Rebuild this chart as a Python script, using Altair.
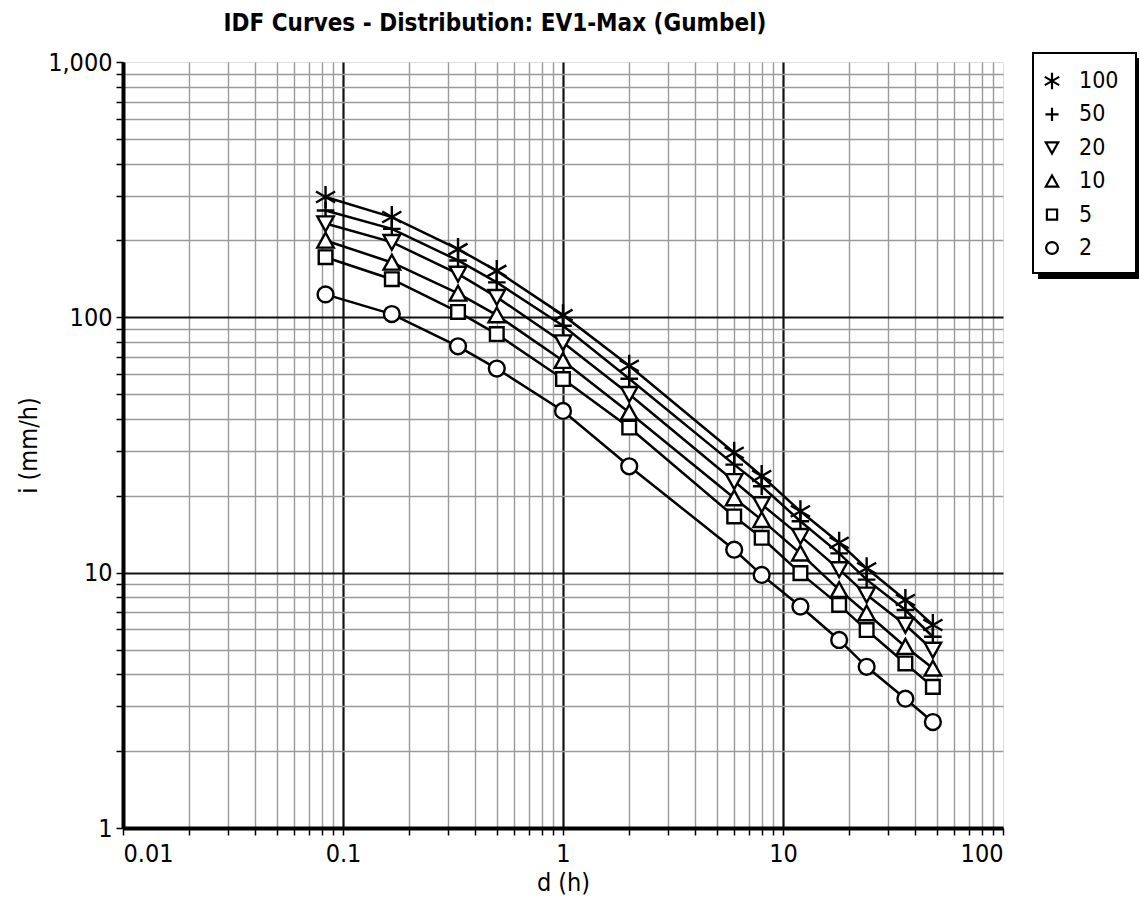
import altair as alt
import pandas as pd

# durations in hours
durations = [0.0833, 0.1667, 0.3333, 0.5, 1, 2, 6, 8, 12, 18, 24, 36, 48]
periods = ["100", "50", "20", "10", "5", "2"]
i100 = [296, 247, 185, 152, 102, 64.6, 29.5, 23.9, 17.4, 13.1, 10.4, 7.82, 6.24]
i50 = [262, 222, 167, 137, 92.7, 57.5, 26.5, 21.8, 15.9, 11.9, 9.39, 7.14, 5.61]
i20 = [233, 197, 148, 120, 79.7, 50.0, 22.8, 18.5, 13.9, 10.3, 8.19, 6.24, 4.98]
i10 = [200, 164, 124, 102, 67.6, 42.4, 19.6, 16.1, 11.9, 8.56, 6.94, 5.13, 4.22]
i5 = [172, 141, 105, 86, 57.3, 37.0, 16.6, 13.7, 9.96, 7.48, 5.96, 4.41, 3.57]
i2 = [123, 103, 77, 63, 43, 26.1, 12.3, 9.8, 7.37, 5.45, 4.28, 3.21, 2.60]
series = [i100, i50, i20, i10, i5, i2]

x_ticks = [0.01, 0.02, 0.03, 0.04, 0.05, 0.06, 0.07, 0.08, 0.09,
           0.1, 0.2, 0.3, 0.4, 0.5, 0.6, 0.7, 0.8, 0.9,
           1, 2, 3, 4, 5, 6, 7, 8, 9,
           10, 20, 30, 40, 50, 60, 70, 80, 90, 100]
y_ticks = [1, 2, 3, 4, 5, 6, 7, 8, 9,
           10, 20, 30, 40, 50, 60, 70, 80, 90,
           100, 200, 300, 400, 500, 600, 700, 800, 900, 1000]

rows = []
for p, vals in zip(periods, series):
    for d, v in zip(durations, vals):
        rows.append({"d": d, "i": v, "T": p})
df = pd.DataFrame(rows)
legend_df = pd.DataFrame({"T": periods})

FONT = "Liberation Sans Narrow, DejaVu Sans Condensed, Liberation Sans, Arial"
major = "abs(log(datum.value)/LN10 - round(log(datum.value)/LN10)) < 1e-6"

# marker outlines (normalised symbol space)
asterisk = "M0,-1L0,1M-0.87,-0.5L0.87,0.5M-0.87,0.5L0.87,-0.5"
plus = "M-0.8,0L0.8,0M0,-0.8L0,0.8"
tri_down = "M-0.75,-0.65L0.75,-0.65L0,0.7Z"
tri_up = "M-0.75,0.65L0.75,0.65L0,-0.7Z"
square = "M-0.62,-0.62L0.62,-0.62L0.62,0.62L-0.62,0.62Z"
circle = "M0.72,0A0.72,0.72 0 1,1 -0.72,0A0.72,0.72 0 1,1 0.72,0Z"
shapes = [asterisk, plus, tri_down, tri_up, square, circle]
shape_scale = alt.Scale(domain=periods, range=shapes)

x_enc = alt.X(
    "d:Q",
    scale=alt.Scale(type="log", domain=[0.01, 100], nice=False),
    axis=alt.Axis(
        values=x_ticks,
        title="d (h)",
        labelExpr=f"({major}) ? format(datum.value, '~g') : ''",
        grid=True,
        gridColor={"condition": {"test": major, "value": "#111111"}, "value": "#9a9a9a"},
        gridWidth={"condition": {"test": major, "value": 2.2}, "value": 1.4},
        gridOpacity={"condition": {"test": "datum.value >= 100", "value": 0}, "value": 1},
        domainWidth=4, domainColor="black",
        tickColor="black", tickWidth=1.5, tickSize=7,
        labelFontSize=25, labelFont=FONT, labelColor="black", labelPadding=6,
        titleFontSize=25, titleFont=FONT, titleFontWeight="normal", titleColor="black",
        titlePadding=4,
    ),
)
y_enc = alt.Y(
    "i:Q",
    scale=alt.Scale(type="log", domain=[1, 1000], nice=False),
    axis=alt.Axis(
        values=y_ticks,
        title="i (mm/h)",
        labelExpr=f"({major}) ? format(datum.value, ',') : ''",
        grid=True,
        gridColor={"condition": {"test": major, "value": "#111111"}, "value": "#9a9a9a"},
        gridWidth={"condition": {"test": major, "value": 2.2}, "value": 1.4},
        gridOpacity={"condition": {"test": "datum.value >= 1000", "value": 0}, "value": 1},
        domainWidth=4, domainColor="black",
        tickColor="black", tickWidth=1.5, tickSize=7,
        labelFontSize=25, labelFont=FONT, labelColor="black", labelPadding=4,
        titleFontSize=25, titleFont=FONT, titleFontWeight="normal", titleColor="black",
        titlePadding=6,
    ),
)

base = alt.Chart(df)

lines = base.mark_line(color="black", strokeWidth=2.5).encode(
    x=x_enc, y=y_enc, detail="T:N", order="d:Q"
)

points = base.mark_point(
    color="black", fill="white", filled=False, strokeWidth=2.4, opacity=1, size=484
).encode(
    x=alt.X("d:Q"),
    y=alt.Y("i:Q"),
    shape=alt.Shape("T:N", scale=shape_scale, legend=None),
)

main = alt.layer(lines, points)

# legend panel (top right, outside the plot area)
leg_base = alt.Chart(legend_df)
row_y = alt.Y("T:N", sort=periods,
              scale=alt.Scale(type="point", domain=periods, range=[19, 186], padding=0),
              axis=None)

shadow = leg_base.mark_rect(color="black").encode(
    x=alt.value(915), x2=alt.value(1018), y=alt.value(-4), y2=alt.value(217)
)
box = leg_base.mark_rect(fill="white", stroke="black", strokeWidth=2).encode(
    x=alt.value(910), x2=alt.value(1013), y=alt.value(-9), y2=alt.value(211)
)
leg_pts = leg_base.mark_point(
    color="black", fill="white", filled=False, strokeWidth=2.2, opacity=1, size=270
).encode(
    x=alt.value(929),
    y=row_y,
    shape=alt.Shape("T:N", scale=shape_scale, legend=None),
)
leg_txt = leg_base.mark_text(
    align="left", baseline="middle", fontSize=23, font=FONT, color="black"
).encode(
    x=alt.value(956),
    y=row_y,
    text="T:N",
)
legend_layer = alt.layer(shadow, box, leg_pts, leg_txt)

chart = alt.layer(main, legend_layer).resolve_scale(y="independent").properties(
    width=880,
    height=766,
    autosize=alt.AutoSizeParams(type="none"),
    padding={"left": 123, "top": 62, "right": 136, "bottom": 83},
    title=alt.TitleParams(
        "IDF Curves - Distribution: EV1-Max (Gumbel)",
        anchor="middle", frame="group", dx=-68, offset=14,
        fontSize=24, font=FONT, fontWeight="bold", color="black",
    ),
).configure_view(stroke=None).configure(background="white")

chart.save("out.html", embed_options={"renderer": "svg", "actions": False})
